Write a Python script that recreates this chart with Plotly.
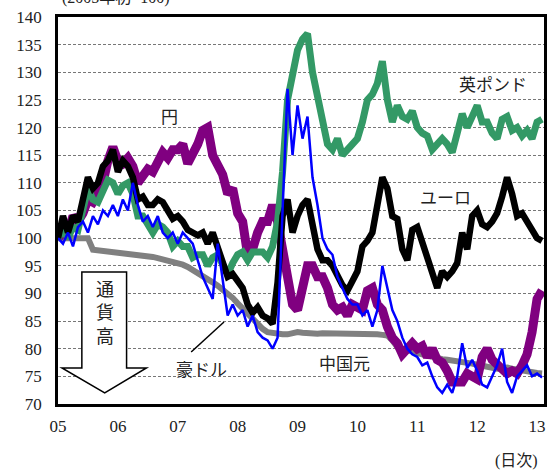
import plotly.graph_objects as go

# Monthly readings, January 2005 (index 0) through February 2013 (index 97).
# Index: start of 2005 = 100; a fall means the currency strengthened.
months = list(range(98))

yen = [100, 101, 101, 104, 103, 104.5, 107, 106.5, 108, 110, 114, 116.5,
       114, 113.5, 114.5, 113, 110, 111, 112.5, 112, 114, 115.5, 114.5, 116,
       116, 117, 113.5, 115, 117, 119.5, 120, 115, 113.5, 111.5, 108, 109,
       104.5, 103, 97, 98, 101, 103, 103, 106, 103, 98, 93, 88,
       87, 92, 95, 95, 93, 93, 91, 88, 87, 87.5, 86, 88,
       87.5, 87, 90.5, 91, 88, 87, 84, 82, 81, 79, 80, 81,
       80, 80.5, 78.5, 80, 78, 77.5, 76, 74, 74, 74, 75.5, 75,
       74.5, 78.5, 80, 78, 77, 76.5, 75.5, 76, 75.5, 77, 79, 83,
       89, 90.5]

pound = [100, 101.5, 100, 102, 101.5, 105, 109, 107, 106.5, 108.5, 110.5, 110,
         108, 109.5, 110, 108, 104, 104, 102.5, 101, 102.5, 102, 101, 98.5,
         99.5, 98.5, 98.5, 96.5, 97, 97, 95, 96.5, 97, 95, 93.5, 95.5,
         97, 97.5, 96, 97.5, 97.5, 97.5, 96.5, 98.5, 103, 112, 125, 130,
         134, 136, 137, 130, 126, 122, 117, 116, 118, 115, 116, 117,
         118, 121, 125, 126, 128, 132, 125, 121, 124, 122, 121.5, 123,
         120, 119, 118.5, 116, 117, 118, 117, 115.5, 119, 122.5, 120, 122,
         124, 121, 121, 119, 118, 121.5, 122, 119.5, 120, 118.5, 119.5, 118,
         121, 121.5]

euro = [100, 104, 101, 104, 103, 107, 111, 109, 110, 113, 114, 116,
        112, 114, 113, 111, 107, 107.5, 106, 106, 107, 106.5, 105, 103.5,
        104, 103, 101.5, 101, 100.5, 101, 99, 101, 98.5, 96, 93, 93.5,
        92, 91, 88, 86.5, 87.5, 86, 85.5, 84.5, 92, 104, 107, 101,
        104, 106, 107, 103, 98, 96, 96, 95, 93, 91.5, 90.5, 92,
        94, 98.5, 99.5, 101, 106, 111, 109, 104, 103.5, 98, 96, 101.5,
        102, 99, 96.5, 93, 91, 94, 93, 94, 95.5, 101, 98, 104,
        105, 102.5, 102, 103, 104.5, 107.5, 111, 108, 104, 104.5, 103, 102,
        100, 99.5]

aud = [100, 99, 101, 98.5, 102, 103, 101, 104, 102.5, 105, 104, 106,
       104, 107, 105, 110, 106, 103, 104, 102, 104, 101, 100, 101,
       99, 101, 100, 99, 96, 93, 91, 89, 99, 92, 86, 88,
       86, 87, 84, 86, 83, 82, 81.5, 80, 82, 105, 127, 115,
       124, 118, 122, 111, 106, 100, 98, 97, 93, 91, 89, 88,
       88, 86, 87, 84, 87, 95, 91, 87, 85, 82, 80, 79,
       78.5, 77, 77.5, 75, 73, 72, 73.5, 72, 75, 81, 76.5, 78,
       76, 73.5, 73, 75, 77, 80, 74, 72, 75, 76, 77, 75,
       75.5, 74.8]

yuan = [100, 100, 100, 100, 100, 100, 100, 97.9, 97.8, 97.8, 97.7, 97.6,
        97.5, 97.4, 97.3, 97.2, 97.1, 96.9, 96.8, 96.6, 96.4, 96.2, 96.0, 95.8,
        95.5, 95.2, 94.8, 94.3, 93.8, 93.2, 92.6, 92.0, 91.4, 90.7, 90.0, 89.2,
        88.2, 87.2, 86.2, 85.2, 84.3, 83.6, 83.0, 82.8, 82.8, 82.6, 82.6, 82.8,
        83.0, 82.9, 82.8, 82.8, 82.7, 82.8, 82.8, 82.8, 82.7, 82.7, 82.8, 82.8,
        82.8, 82.7, 82.7, 82.6, 82.6, 82.5, 82.4, 81.5, 80.3, 80.0, 79.7, 79.4,
        79.2, 79.0, 78.8, 78.5, 78.3, 78.1, 78.0, 77.9, 77.8, 77.6, 77.5, 77.3,
        77.1, 76.9, 76.7, 76.5, 76.4, 76.5, 76.6, 76.4, 76.2, 76.0, 75.8, 75.7,
        75.6, 75.5]

year_ticks = [2005, 2006, 2007, 2008, 2009, 2010, 2011, 2012, 2013]
year_labels = ["05", "06", "07", "08", "09", "10", "11", "12", "13"]

years = [2005 + m / 12 for m in months]

SERIF = "Liberation Serif, Noto Sans CJK JP, serif"
TEXT = "#222222"

fig = go.Figure()

# Drawing order: yuan underneath, AUD thin line on top
series = [
    (yuan, "#808080", 6),
    (yen, "#800080", 9),
    (pound, "#339966", 7),
    (euro, "#000000", 6.5),
    (aud, "#0000FF", 2.5),
]
for vals, color, width in series:
    fig.add_trace(go.Scatter(
        x=years, y=vals, mode="lines",
        line=dict(color=color, width=width, shape="linear"),
        showlegend=False, hoverinfo="skip",
    ))

fig.update_layout(
    width=552, height=474,
    margin=dict(l=58, r=5, t=17, b=70),
    paper_bgcolor="white", plot_bgcolor="white",
    font=dict(family=SERIF, size=17, color=TEXT),
    xaxis=dict(
        range=[2005, 2013.116],
        tickvals=year_ticks, ticktext=year_labels,
        showgrid=False, zeroline=False,
        showline=True, mirror=True, linecolor="black", linewidth=2.5,
        ticks="outside", ticklen=5, tickcolor="rgba(0,0,0,0)",
        tickfont=dict(family=SERIF, size=17, color=TEXT),
    ),
    yaxis=dict(
        range=[70, 140], dtick=5, tick0=70,
        showgrid=True, gridcolor="#777777", gridwidth=1, griddash="3px,2px",
        zeroline=False,
        showline=True, mirror=True, linecolor="black", linewidth=2.5,
        ticks="outside", ticklen=10, tickcolor="rgba(0,0,0,0)",
        tickfont=dict(family=SERIF, size=17, color=TEXT),
    ),
)

def px_x(px):
    return (px - 58) / 489

def px_y(py):
    return (404 - py) / 387

# Downward arrow ("currency appreciation")
arrow = (
    f"M {px_x(82)},{px_y(272)} L {px_x(127)},{px_y(272)} "
    f"L {px_x(127)},{px_y(368)} L {px_x(147)},{px_y(368)} "
    f"L {px_x(105)},{px_y(393)} L {px_x(62)},{px_y(368)} "
    f"L {px_x(82)},{px_y(368)} Z"
)
fig.add_shape(type="path", path=arrow, xref="paper", yref="paper",
              fillcolor="white", line=dict(color="black", width=1.5),
              layer="above")

# Leader line for the AUD label
fig.add_shape(type="line", xref="paper", yref="paper",
              x0=px_x(192), y0=px_y(352), x1=px_x(225), y1=px_y(322),
              line=dict(color="black", width=1.5))

labels = [
    ("円", 170, 118),
    ("英ポンド", 496, 85),
    ("ユーロ", 448, 198),
    ("豪ドル", 202, 370),
    ("中国元", 346, 364),
]
for txt, cx, cy in labels:
    fig.add_annotation(text=txt, x=px_x(cx), y=px_y(cy), xref="paper", yref="paper",
                       showarrow=False, xanchor="center", yanchor="middle",
                       font=dict(family=SERIF, size=17, color=TEXT))

fig.add_annotation(text="通<br>貨<br>高", x=px_x(105), y=px_y(313),
                   xref="paper", yref="paper", showarrow=False,
                   xanchor="center", yanchor="middle",
                   font=dict(family=SERIF, size=18, color=TEXT))

fig.add_annotation(text="(2005年初=100)", x=px_x(60), y=px_y(-2),
                   xref="paper", yref="paper", showarrow=False,
                   xanchor="left", yanchor="middle",
                   font=dict(family=SERIF, size=16, color=TEXT))

fig.add_annotation(text="(日次)", x=px_x(519), y=px_y(461),
                   xref="paper", yref="paper", showarrow=False,
                   xanchor="center", yanchor="middle",
                   font=dict(family=SERIF, size=16, color=TEXT))

fig.write_html("out.html")
